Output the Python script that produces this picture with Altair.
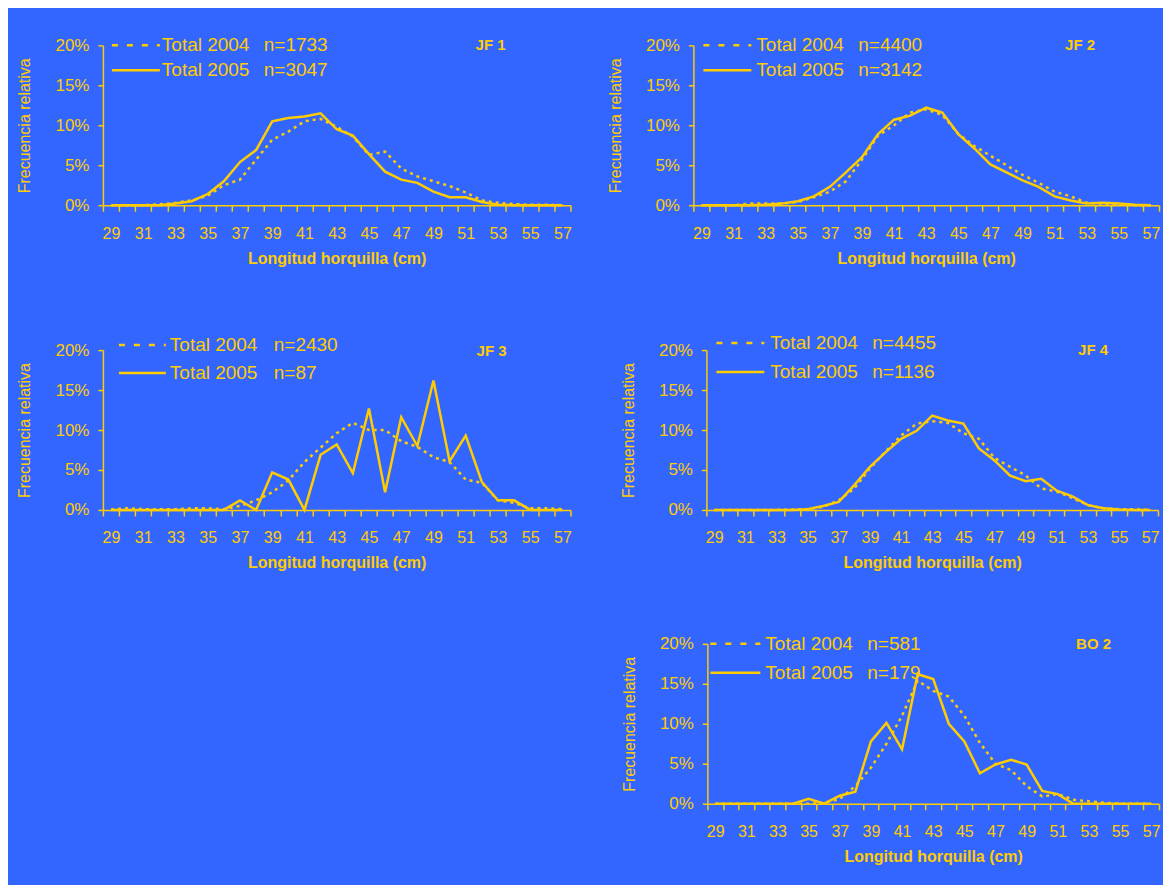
import altair as alt
import pandas as pd

# ---------------- data ----------------
lengths = list(range(29, 58))
panel_names = ["JF 1", "JF 2", "JF 3", "JF 4", "BO 2"]
n_2004 = [1733, 4400, 2430, 4455, 581]
n_2005 = [3047, 3142, 87, 1136, 179]

# relative frequency (%) by fork length 29..57 cm
jf1_2004 = [0, 0, 0, 0.1, 0.3, 0.6, 1.2, 2.5, 3.2, 5.7, 8.2, 9.2, 10.5, 10.8, 9.8, 8.6, 6.3, 6.7, 4.6, 3.6, 3.0, 2.4, 1.6, 0.6, 0.3, 0.15, 0.05, 0.05, 0]
jf1_2005 = [0, 0, 0, 0, 0.2, 0.5, 1.4, 3.0, 5.4, 6.9, 10.5, 10.9, 11.1, 11.5, 9.5, 8.7, 6.4, 4.2, 3.2, 2.8, 1.7, 1.0, 1.0, 0.4, 0.05, 0, 0, 0, 0]
jf2_2004 = [0, 0, 0, 0.2, 0.2, 0.2, 0.4, 1.0, 1.7, 3.0, 5.7, 8.7, 10.0, 11.6, 12.0, 11.3, 8.9, 7.4, 6.2, 5.0, 3.8, 2.8, 1.7, 1.1, 0.3, 0.2, 0.1, 0, 0]
jf2_2005 = [0, 0, 0, 0, 0.05, 0.2, 0.5, 1.1, 2.3, 4.1, 6.0, 8.9, 10.7, 11.2, 12.2, 11.6, 8.9, 7.1, 5.1, 4.1, 3.1, 2.3, 1.1, 0.6, 0.2, 0.3, 0.2, 0.05, 0]
jf3_2004 = [0.05, 0.2, 0.1, 0.1, 0.1, 0.2, 0.2, 0.1, 0.5, 1.2, 2.2, 3.7, 6.0, 7.8, 9.6, 10.9, 10.0, 10.0, 8.6, 7.9, 6.6, 6.0, 3.8, 3.4, 1.2, 0.9, 0.2, 0.2, 0.1]
jf3_2005 = [0, 0, 0, 0, 0, 0, 0, 0, 1.2, 0, 4.7, 3.8, 0, 6.9, 8.2, 4.6, 12.7, 2.2, 11.6, 8.0, 16.2, 6.1, 9.3, 3.5, 1.2, 1.2, 0, 0, 0]
jf4_2004 = [0, 0, 0, 0, 0, 0.05, 0.1, 0.4, 1.2, 2.7, 5.2, 7.3, 9.3, 10.8, 11.1, 10.9, 9.6, 8.9, 6.5, 5.4, 4.3, 2.7, 2.3, 1.5, 0.6, 0.2, 0.1, 0.1, 0]
jf4_2005 = [0, 0, 0, 0, 0, 0, 0.1, 0.5, 1.0, 3.1, 5.4, 7.2, 8.9, 9.9, 11.8, 11.2, 10.8, 7.7, 6.2, 4.3, 3.6, 3.9, 2.4, 1.7, 0.6, 0.2, 0.05, 0, 0]
bo2_2004 = [0, 0, 0, 0, 0, 0, 0, 0.1, 0.6, 2.2, 4.5, 7.5, 11.0, 15.4, 14.1, 13.4, 11.0, 7.6, 5.0, 4.2, 2.2, 0.9, 1.2, 0.5, 0.3, 0.1, 0, 0, 0]
bo2_2005 = [0, 0, 0, 0, 0, 0, 0.6, 0, 1.0, 1.5, 7.8, 10.1, 6.8, 16.2, 15.6, 10.0, 7.8, 3.8, 4.9, 5.5, 4.9, 1.6, 1.2, 0, 0, 0, 0, 0, 0]

series_2004 = [jf1_2004, jf2_2004, jf3_2004, jf4_2004, bo2_2004]
series_2005 = [jf1_2005, jf2_2005, jf3_2005, jf4_2005, bo2_2005]

# ---------------- style ----------------
BLUE = "#3366FF"
YEL = "#FFCC00"
FONT = "Liberation Sans"
H = 160
widths = [468, 466, 468, 452, 452]

# per panel legend layout (pixels relative to plot area)
layout = [
    dict(lx=(9, 57), tx=59, nx=161, y1=0, y2=25, name_x=373, name_y=0),
    dict(lx=(10, 58), tx=63, nx=165, y1=0, y2=25, name_x=372, name_y=0),
    dict(lx=(16, 63), tx=67, nx=171, y1=-5, y2=23, name_x=374, name_y=1),
    dict(lx=(10, 58), tx=64, nx=166, y1=-7, y2=22, name_x=372, name_y=0),
    dict(lx=(3, 53), tx=58, nx=160, y1=0, y2=29, name_x=369, name_y=0),
]


def panel(i):
    rows = []
    for L, a, b in zip(lengths, series_2004[i], series_2005[i]):
        rows.append({"L": L, "v": a / 100.0, "year": "2004"})
        rows.append({"L": L, "v": b / 100.0, "year": "2005"})
    df = pd.DataFrame(rows)
    lay = layout[i]
    W = widths[i]

    x = alt.X(
        "L:O",
        scale=alt.Scale(type="band", domain=lengths, paddingInner=0, paddingOuter=0),
        axis=alt.Axis(
            title="Longitud horquilla (cm)",
            tickBand="extent",
            labelExpr="datum.value % 2 == 1 ? datum.label : ''",
            labelAngle=0,
            labelOverlap=False,
            labelFontSize=16,
            labelPadding=14,
            tickSize=6,
            titleFontSize=16,
            titleFontWeight="bold",
            titleX=W / 2,
            titleY=53,
            titleBaseline="middle",
            titleAlign="center",
        ),
    )
    y = alt.Y(
        "v:Q",
        scale=alt.Scale(domain=[0, 0.2], nice=False),
        axis=alt.Axis(
            title="Frecuencia relativa",
            values=[0, 0.05, 0.1, 0.15, 0.2],
            format=".0%",
            labelFontSize=17,
            labelPadding=9,
            tickSize=5,
            titleFontSize=16,
            titleFontWeight="normal",
            titleX=-78,
            titleY=H / 2,
            titleAngle=-90,
            titleBaseline="middle",
            titleAlign="center",
        ),
    )
    base = alt.Chart(df)
    l04 = base.transform_filter("datum.year == '2004'").mark_line(
        color=YEL, strokeWidth=2.5, strokeDash=[3, 4]
    ).encode(x=x, y=y)
    l05 = base.transform_filter("datum.year == '2005'").mark_line(
        color=YEL, strokeWidth=2.5
    ).encode(x=x, y=y)

    one = alt.Data(values=[{"k": 1}])
    rule04 = alt.Chart(one).mark_rule(color=YEL, strokeWidth=2.5, strokeDash=[6, 9]).encode(
        x=alt.value(lay["lx"][0]), x2=alt.value(lay["lx"][1]), y=alt.value(lay["y1"])
    )
    rule05 = alt.Chart(one).mark_rule(color=YEL, strokeWidth=2.5).encode(
        x=alt.value(lay["lx"][0]), x2=alt.value(lay["lx"][1]), y=alt.value(lay["y2"])
    )
    txt = dict(align="left", baseline="middle", font=FONT, fontSize=19, color=YEL)
    t1 = alt.Chart(one).mark_text(text="Total 2004", **txt).encode(
        x=alt.value(lay["tx"]), y=alt.value(lay["y1"]))
    t2 = alt.Chart(one).mark_text(text="Total 2005", **txt).encode(
        x=alt.value(lay["tx"]), y=alt.value(lay["y2"]))
    n1 = alt.Chart(one).mark_text(text=f"n={n_2004[i]}", **txt).encode(
        x=alt.value(lay["nx"]), y=alt.value(lay["y1"]))
    n2 = alt.Chart(one).mark_text(text=f"n={n_2005[i]}", **txt).encode(
        x=alt.value(lay["nx"]), y=alt.value(lay["y2"]))
    name = alt.Chart(one).mark_text(
        text=panel_names[i], align="left", baseline="middle", font=FONT,
        fontSize=15, fontWeight="bold", color=YEL
    ).encode(x=alt.value(lay["name_x"]), y=alt.value(lay["name_y"]))

    return alt.layer(l04, l05, rule04, rule05, t1, t2, n1, n2, name).properties(width=W, height=H)


p = [panel(i) for i in range(5)]

spacer = alt.Chart(alt.Data(values=[{"k": 1}])).mark_point(opacity=0).encode(
    x=alt.value(5), y=alt.value(5)
).properties(width=518, height=10)

row1 = alt.hconcat(p[0], p[1], spacing=35)
row2 = alt.hconcat(p[2], p[3], spacing=48)
row3 = alt.hconcat(spacer, p[4], spacing=0)

chart = alt.vconcat(
    alt.vconcat(row1, row2, spacing=68),
    row3,
    spacing=64,
).properties(
    background=BLUE,
    padding={"left": 8, "top": 28, "right": 2, "bottom": 20},
).configure_view(stroke=None).configure_axis(
    grid=False,
    domainColor=YEL,
    domainWidth=1.5,
    tickColor=YEL,
    tickWidth=1.5,
    labelColor=YEL,
    titleColor=YEL,
    labelFont=FONT,
    titleFont=FONT,
)

chart.save("out.html", embed_options={"renderer": "svg", "actions": False})
